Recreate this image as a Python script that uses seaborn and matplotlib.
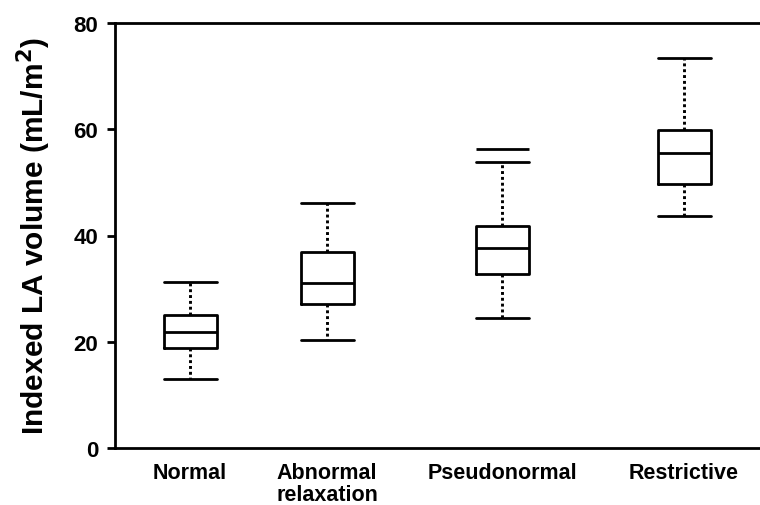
import matplotlib
matplotlib.use("Agg")
import matplotlib.pyplot as plt
import numpy as np
import pandas as pd
import seaborn as sns

# Indexed left-atrial volume (mL/m^2) by diastolic function grade
categories = ["Normal", "Abnormal\nrelaxation", "Pseudonormal", "Restrictive"]
whisker_low = [13.0, 20.4, 24.5, 43.7]
q1 = [18.8, 27.2, 32.8, 49.7]
median = [21.8, 31.1, 37.6, 55.6]
q3 = [25.0, 36.9, 41.7, 59.8]
whisker_high = [31.2, 46.1, 53.9, 73.4]
# highest single value in the pseudonormal group
pseudo_max = 56.2

# layout: horizontal centre of each box and the box width (axis units)
box_centers = [1.90, 3.27, 5.02, 6.84]
box_width = 0.53

sns.set_theme(style="white")
plt.rcParams["font.family"] = ["Liberation Sans", "DejaVu Sans"]
plt.rcParams["font.weight"] = "bold"
for key in ("text.color", "axes.labelcolor", "xtick.color", "ytick.color"):
    plt.rcParams[key] = "black"

# five-number summaries -> long-form table; with five points per group the
# linear-interpolated quartiles equal the listed values exactly
rows = []
for i, c in enumerate(box_centers):
    for v in (whisker_low[i], q1[i], median[i], q3[i], whisker_high[i]):
        rows.append({"pos": c, "volume": v})
df = pd.DataFrame(rows)

fig = plt.figure(figsize=(7.6, 5.06), dpi=100)
ax = fig.add_axes([115 / 760, 57 / 506, 1 - 115 / 760, 425 / 506])

lw = 2.0
min_gap = np.min(np.diff(box_centers))
sns.boxplot(
    data=df, x="pos", y="volume", native_scale=True, ax=ax,
    whis=(0, 100), fill=False, color="black", linewidth=lw,
    width=box_width / min_gap, capwidths=box_width,
    whiskerprops={"linestyle": (0, (1, 1.0)), "linewidth": 2.1},
    medianprops={"linewidth": lw, "color": "black"},
    capprops={"linewidth": lw},
    showfliers=False,
)

ax.hlines(pseudo_max, box_centers[2] - box_width / 2, box_centers[2] + box_width / 2,
          color="black", linewidth=lw)

ax.set_xlim(1.15, 7.60)
ax.set_ylim(0, 80)
ax.set_yticks([0, 20, 40, 60, 80])
ax.set_xticks(box_centers)
ax.set_xticklabels(categories, fontsize=15.5, fontweight="bold", linespacing=1.1)
ax.tick_params(axis="x", length=0, pad=10)
ax.tick_params(axis="y", length=6, width=lw, color="black", pad=6,
               left=True, labelsize=16)
for lab in ax.get_yticklabels():
    lab.set_fontweight("bold")

ax.set_xlabel("")
ax.set_ylabel("Indexed LA volume (mL/m$^\\mathbf{2}$)", fontsize=21.5,
              fontweight="bold", labelpad=15)

for side in ("left", "top", "bottom"):
    ax.spines[side].set_color("black")
    ax.spines[side].set_linewidth(lw)
ax.spines["right"].set_visible(False)

fig.savefig("out.png", dpi=100)
